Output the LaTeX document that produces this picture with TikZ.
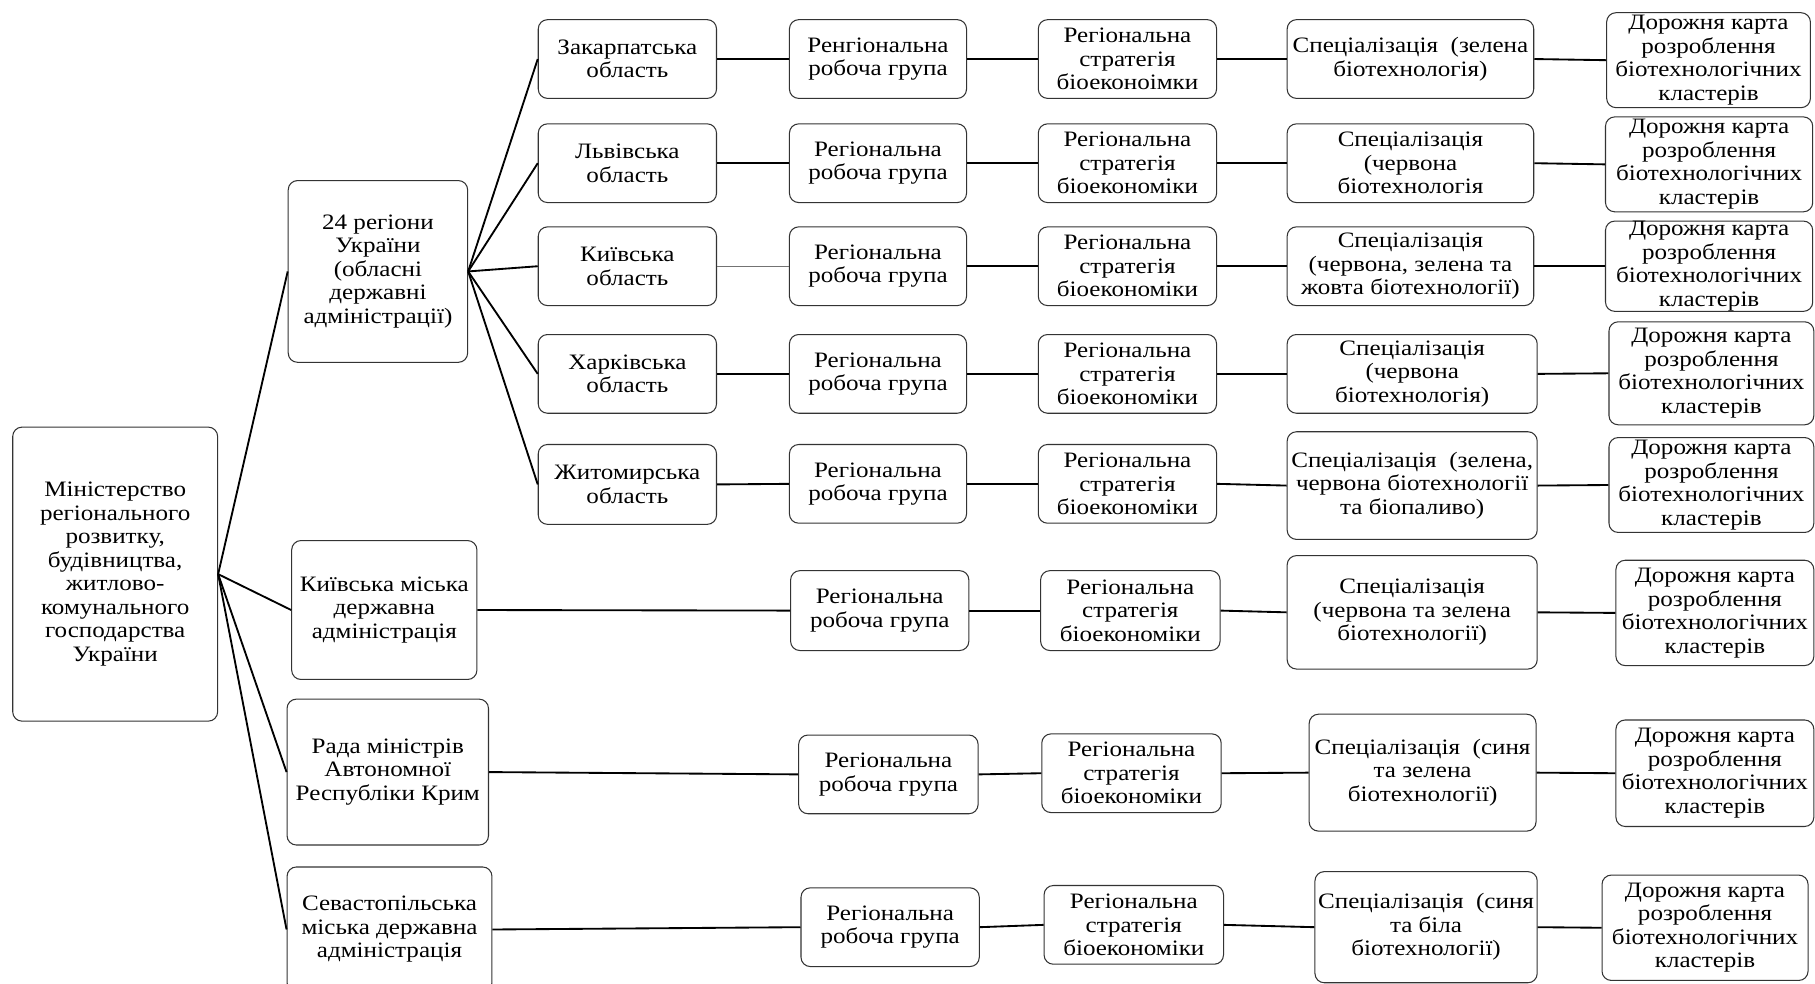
\documentclass[tikz,border=0pt]{standalone}
\usepackage{fontspec}
\setmainfont[FakeStretch=1.14]{Liberation Serif}
\tikzset{
  bx/.style={draw=black!80, line width=0.9pt, rounded corners=8pt, align=center, inner sep=0pt,
    font=\fontsize{19}{20.3}\selectfont},
  ln/.style={line width=1.6pt, draw=black},
  lnthin/.style={line width=1pt, draw=black!55},
}
\newcommand\bx[6]{\node[bx, minimum width={#4-#2}, minimum height={#5-#3}] (#1) at ({(#2+#4)/2},{(#3+#5)/2+1}) {#6};}
\begin{document}
\begin{tikzpicture}[x=1pt,y=-1pt]
\useasboundingbox[fill=white] (0,0) rectangle (1568,850);
% level 0 and 1
\bx{min}{11}{368}{188}{622}{Міністерство\\регіонального\\розвитку,\\будівництва,\\житлово-\\комунального\\господарства\\України}
\bx{reg}{249}{155}{404}{312}{24 регіони\\України\\(обласні\\державні\\адміністрації)}
\bx{kmda}{252}{466}{412}{586}{Київська міська\\державна\\адміністрація}
\bx{rada}{248}{603}{422}{729}{Рада міністрів\\Автономної\\Республіки Крим}
\bx{sev}{248}{748}{425}{856}{Севастопільська\\міська державна\\адміністрація}
% oblasts
\bx{o1}{465}{16}{619}{84}{Закарпатська\\область}
\bx{o2}{465}{106}{619}{174}{Львівська\\область}
\bx{o3}{465}{195}{619}{263}{Київська\\область}
\bx{o4}{465}{288}{619}{356}{Харківська\\область}
\bx{o5}{465}{383}{619}{452}{Житомирська\\область}
% working groups
\bx{w1}{682}{16}{835}{84}{Ренгіональна\\робоча група}
\bx{w2}{682}{106}{835}{174}{Регіональна\\робоча група}
\bx{w3}{682}{195}{835}{263}{Регіональна\\робоча група}
\bx{w4}{682}{288}{835}{356}{Регіональна\\робоча група}
\bx{w5}{682}{383}{835}{451}{Регіональна\\робоча група}
\bx{w6}{683}{492}{837}{561}{Регіональна\\робоча група}
\bx{w7}{690}{634}{845}{702}{Регіональна\\робоча група}
\bx{w8}{692}{766}{846}{834}{Регіональна\\робоча група}
% strategies
\bx{s1}{897}{16}{1051}{84}{Регіональна\\стратегія\\біоеконоімки}
\bx{s2}{897}{106}{1051}{174}{Регіональна\\стратегія\\біоекономіки}
\bx{s3}{897}{195}{1051}{263}{Регіональна\\стратегія\\біоекономіки}
\bx{s4}{897}{288}{1051}{356}{Регіональна\\стратегія\\біоекономіки}
\bx{s5}{897}{383}{1051}{451}{Регіональна\\стратегія\\біоекономіки}
\bx{s6}{899}{492}{1054}{561}{Регіональна\\стратегія\\біоекономіки}
\bx{s7}{900}{633}{1055}{701}{Регіональна\\стратегія\\біоекономіки}
\bx{s8}{902}{764}{1057}{832}{Регіональна\\стратегія\\біоекономіки}
% specialisations
\bx{p1}{1112}{16}{1325}{84}{Спеціалізація~~(зелена\\біотехнологія)}
\bx{p2}{1112}{106}{1325}{174}{Спеціалізація\\(червона\\біотехнологія}
\bx{p3}{1112}{195}{1325}{263}{Спеціалізація\\(червона, зелена та\\жовта біотехнології)}
\bx{p4}{1112}{288}{1328}{356}{Спеціалізація\\(червона\\біотехнологія)}
\bx{p5}{1112}{372}{1328}{465}{Спеціалізація~~(зелена,\\червона біотехнології\\та біопаливо)}
\bx{p6}{1112}{479}{1328}{577}{Спеціалізація\\(червона та зелена\\біотехнології)}
\bx{p7}{1131}{616}{1327}{717}{Спеціалізація~~(синя\\та зелена\\біотехнології)}
\bx{p8}{1136}{752}{1328}{848}{Спеціалізація~~(синя\\та біла\\біотехнології)}
% roadmaps
\bx{d1}{1388}{10}{1564}{92}{Дорожня карта\\розроблення\\біотехнологічних\\кластерів}
\bx{d2}{1387}{100}{1566}{182}{Дорожня карта\\розроблення\\біотехнологічних\\кластерів}
\bx{d3}{1387}{190}{1566}{268}{Дорожня карта\\розроблення\\біотехнологічних\\кластерів}
\bx{d4}{1390}{277}{1567}{366}{Дорожня карта\\розроблення\\біотехнологічних\\кластерів}
\bx{d5}{1390}{377}{1567}{459}{Дорожня карта\\розроблення\\біотехнологічних\\кластерів}
\bx{d6}{1396}{483}{1567}{574}{Дорожня карта\\розроблення\\біотехнологічних\\кластерів}
\bx{d7}{1396}{621}{1567}{713}{Дорожня карта\\розроблення\\біотехнологічних\\кластерів}
\bx{d8}{1384}{755}{1562}{846}{Дорожня карта\\розроблення\\біотехнологічних\\кластерів}
% connectors
\foreach \t in {reg,kmda,rada,sev} \draw[ln] (min.east) -- (\t.west);
\foreach \t in {o1,o2,o3,o4,o5} \draw[ln] (reg.east) -- (\t.west);
\foreach \i in {1,2,4,5} \draw[ln] (o\i.east) -- (w\i.west);
\draw[lnthin] (o3.east) -- (w3.west);
\draw[ln] (kmda.east) -- (w6.west);
\draw[ln] (rada.east) -- (w7.west);
\draw[ln] (sev.east) -- (w8.west);
\foreach \i in {1,...,8} {
  \draw[ln] (w\i.east) -- (s\i.west);
  \draw[ln] (s\i.east) -- (p\i.west);
  \draw[ln] (p\i.east) -- (d\i.west);
}
\end{tikzpicture}
\end{document}
